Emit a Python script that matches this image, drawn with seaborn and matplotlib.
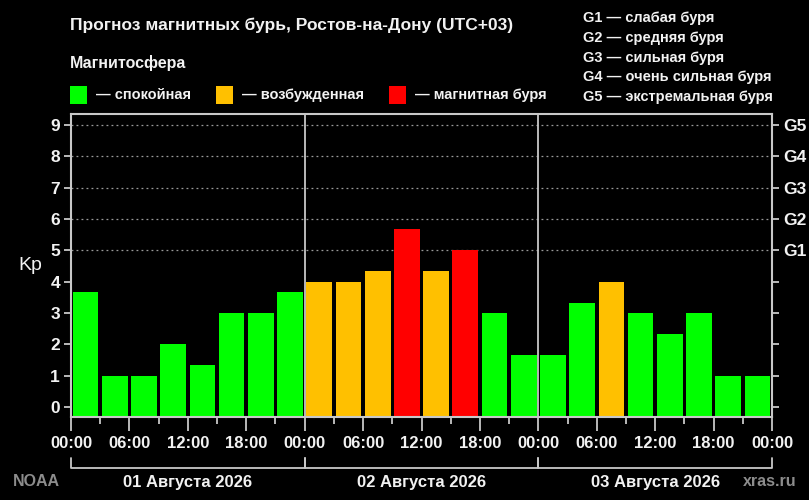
import matplotlib
matplotlib.use("Agg")
import matplotlib.pyplot as plt
import matplotlib.transforms as mtransforms
from matplotlib.patches import Rectangle
import seaborn as sns
import pandas as pd

# Data: Kp forecast, 3-hour intervals over three days
kp_day1 = [3.67, 1.0, 1.0, 2.0, 1.33, 3.0, 3.0, 3.67]
kp_day2 = [4.0, 4.0, 4.33, 5.67, 4.33, 5.0, 3.0, 1.67]
kp_day3 = [1.67, 3.33, 4.0, 3.0, 2.33, 3.0, 1.0, 1.0]
day_labels = ["01 Августа 2026", "02 Августа 2026", "03 Августа 2026"]
time_labels = ["00:00", "06:00", "12:00", "18:00"] * 3 + ["00:00"]
g_labels = ["G1", "G2", "G3", "G4", "G5"]
g_legend = ["G1 — слабая буря", "G2 — средняя буря", "G3 — сильная буря",
            "G4 — очень сильная буря", "G5 — экстремальная буря"]
state_names = ["спокойная", "возбужденная", "магнитная буря"]
state_colors = {"спокойная": "#00ff00", "возбужденная": "#ffc000", "магнитная буря": "#ff0000"}

FONT = ["Liberation Sans Narrow", "Liberation Sans", "DejaVu Sans"]
FG = "#f2f2f2"
GRAYLINE = "#c8c8c8"


def state_of(v):
    if v >= 5:
        return "магнитная буря"
    if v >= 4:
        return "возбужденная"
    return "спокойная"


kp = kp_day1 + kp_day2 + kp_day3
df = pd.DataFrame({"slot": range(len(kp)), "kp": kp})
df["state"] = df["kp"].apply(state_of)

sns.set_theme(style="dark")
plt.rcParams["font.family"] = FONT
plt.rcParams["font.weight"] = "bold"

fig = plt.figure(figsize=(8.09, 5.0), dpi=100, facecolor="black")
ax = fig.add_axes([71 / 809, 1 - 417 / 500, 701 / 809, 303 / 500])
ax.set_facecolor("black")

y0 = -0.32
sns.barplot(data=df, x="slot", y="kp", hue="state", palette=state_colors,
            dodge=False, width=0.88, legend=False, ax=ax, saturation=1,
            edgecolor="none")
# bars rise from the bottom edge of the plot area
for p in ax.patches:
    h = p.get_height()
    p.set_y(y0)
    p.set_height(h - y0)

ax.set_xlim(-0.5, len(kp) - 0.5)
ax.set_ylim(y0, 9.35)

for v in range(5, 10):
    ax.axhline(v, color="#9a9a9a", lw=0.9, ls=(0, (1.5, 2.5)), zorder=0)
for xv in (7.5, 15.5):
    ax.axvline(xv, color=GRAYLINE, lw=1.3, zorder=3)

for s in ax.spines.values():
    s.set_color(GRAYLINE)
    s.set_linewidth(1.5)
    s.set_visible(True)

ax.set_yticks(range(10))
ax.set_yticklabels([str(i) for i in range(10)])
major_x = [i * 2 - 0.5 for i in range(13)]
minor_x = [i * 2 + 0.5 for i in range(12)]
ax.set_xticks(major_x)
ax.set_xticklabels(time_labels)
ax.set_xticks(minor_x, minor=True)
ax.tick_params(axis="x", which="major", length=10, width=1.3, color=GRAYLINE,
               colors=FG, labelsize=12, pad=4, bottom=True)
ax.tick_params(axis="x", which="minor", length=5, width=1.3, color=GRAYLINE, bottom=True)
ax.tick_params(axis="y", length=5, width=1.3, color=GRAYLINE, labelcolor=FG,
               labelsize=12.5, pad=3, left=True)
ax.set_xlabel("")
ax.set_ylabel("Kp", color=FG, fontsize=14, rotation=0, labelpad=14, va="center")
ax.grid(False)

ax2 = ax.twinx()
ax2.set_ylim(ax.get_ylim())
ax2.set_yticks(range(10))
ax2.set_yticklabels([""] * 5 + g_labels)
ax2.tick_params(axis="y", length=5, width=1.3, color=GRAYLINE, labelcolor=FG,
                labelsize=12.5, pad=3, right=True)
for s in ax2.spines.values():
    s.set_visible(False)
ax2.grid(False)

# day brackets under the time axis
tr = mtransforms.blended_transform_factory(ax.transData, fig.transFigure)
yb_top, yb_bot = 1 - 458 / 500, 1 - 468 / 500
for d, label in enumerate(day_labels):
    x_a, x_b = d * 8 - 0.5, d * 8 + 7.5
    ax.plot([x_a, x_a, x_b, x_b], [yb_top, yb_bot, yb_bot, yb_top], color=GRAYLINE,
            lw=1.3, transform=tr, clip_on=False)
    ax.text(d * 8 + 3.5, 1 - 482 / 500, label, transform=tr, color=FG, fontsize=12,
            ha="center", va="center")

fig.text(36 / 809, 1 - 482 / 500, "NOAA", color="#8c8c8c", fontsize=11.5, ha="center", va="center")
fig.text(770 / 809, 1 - 482 / 500, "xras.ru", color="#8c8c8c", fontsize=11.5, ha="center", va="center")

# header
fig.text(70 / 809, 1 - 25 / 500, "Прогноз магнитных бурь, Ростов-на-Дону (UTC+03)",
         color=FG, fontsize=12.5, ha="left", va="center")
fig.text(70 / 809, 1 - 63 / 500, "Магнитосфера", color=FG, fontsize=11.5, ha="left", va="center")
box_x = [70, 216, 389]
for bx, name in zip(box_x, state_names):
    fig.patches.append(Rectangle((bx / 809, 1 - 104 / 500), 17 / 809, 18 / 500,
                                 transform=fig.transFigure, facecolor=state_colors[name],
                                 edgecolor="none"))
    fig.text((bx + 26) / 809, 1 - 95 / 500, "— " + name, color=FG, fontsize=10.5,
             ha="left", va="center")
for i, line in enumerate(g_legend):
    fig.text(583 / 809, 1 - (18 + i * 19.8) / 500, line, color=FG, fontsize=10.5,
             ha="left", va="center")

fig.savefig("out.png", dpi=100, facecolor="black")
